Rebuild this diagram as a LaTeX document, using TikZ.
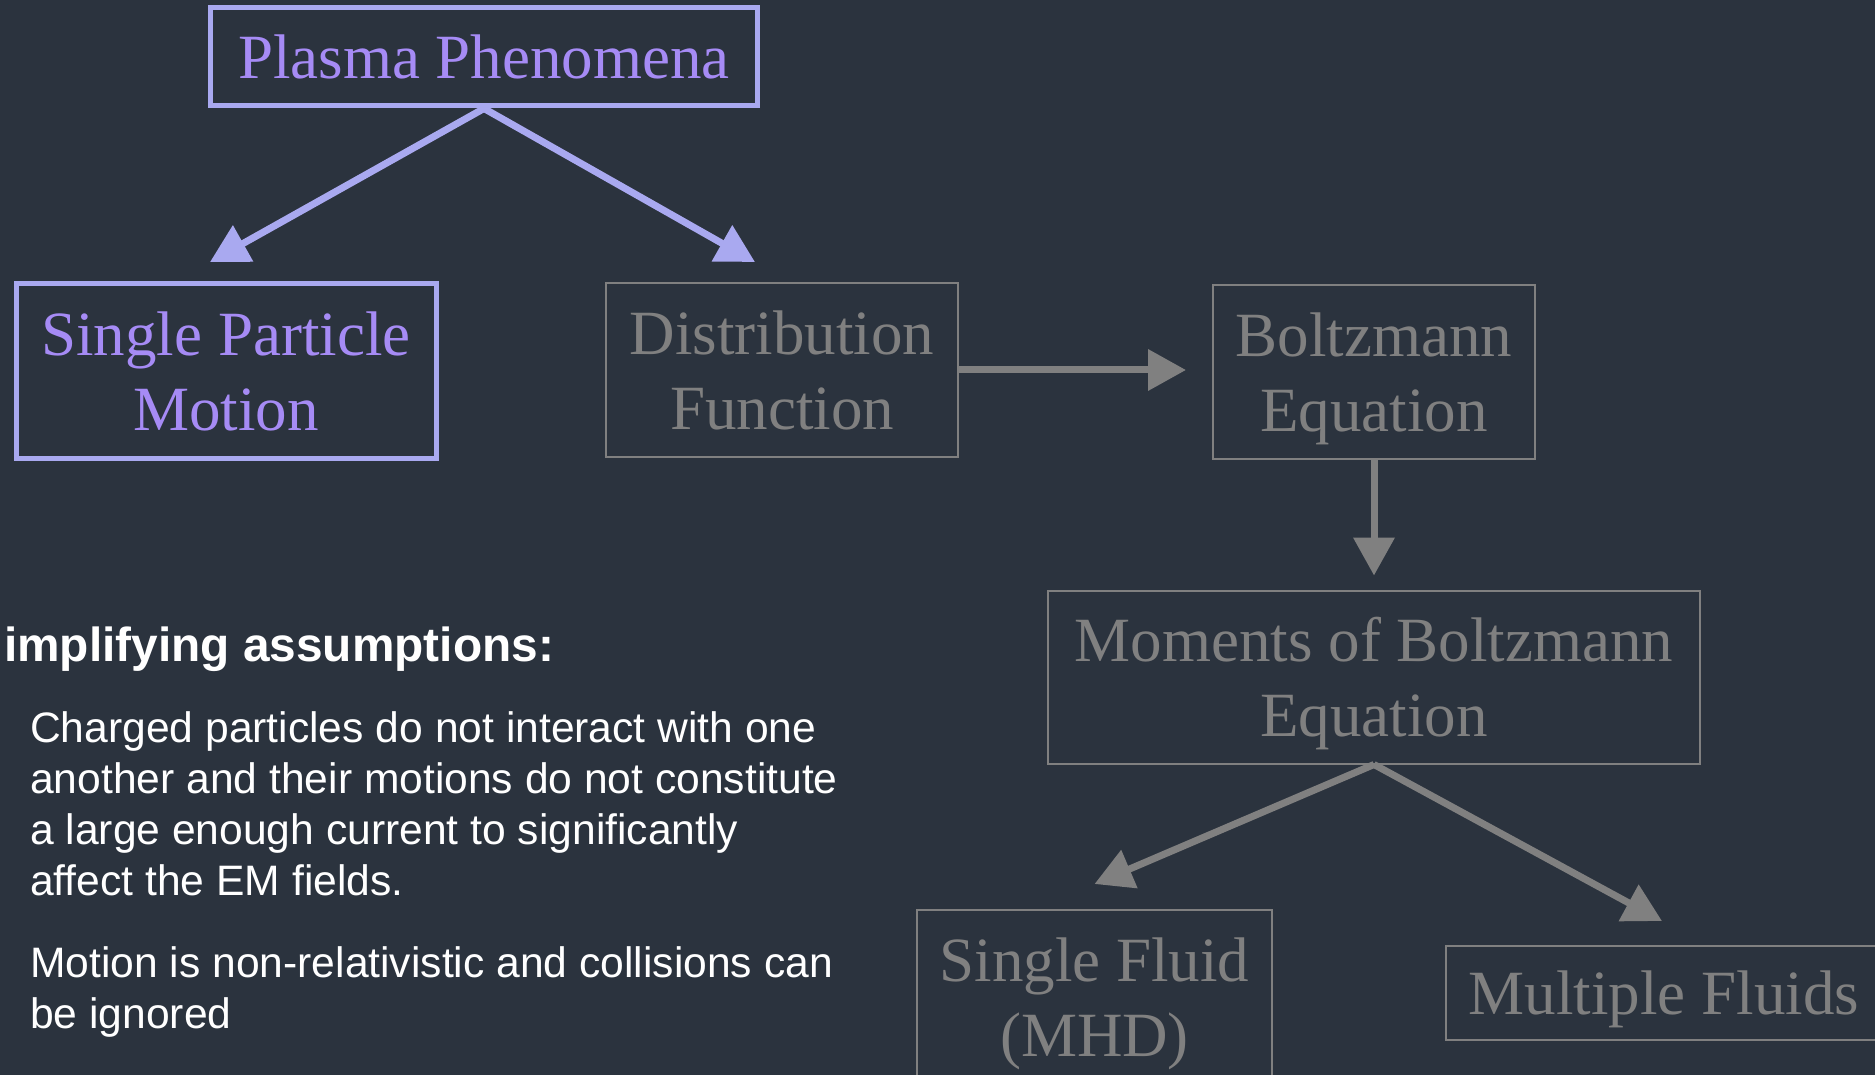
\documentclass[tikz,border=0pt]{standalone}
\usepackage{fontspec}
\setmainfont{Liberation Serif}
\setsansfont{Liberation Sans}
\usetikzlibrary{arrows.meta}
\definecolor{bgc}{HTML}{2B333E}
\definecolor{lav}{HTML}{A9A9F0}
\definecolor{purp}{HTML}{A68BF5}
\definecolor{gry}{HTML}{808080}
\tikzset{
  hibox/.style={draw=lav, line width=5pt, text=purp, align=center, inner sep=0pt,
    font=\fontsize{63}{75}\selectfont},
  lobox/.style={draw=gry, line width=2pt, text=gry, align=center, inner sep=0pt,
    text depth=0pt, font=\fontsize{63}{75}\selectfont},
  hiarrow/.style={draw=lav, line width=7pt, -{Triangle[length=38pt,width=40pt]}},
  loarrow/.style={draw=gry, line width=7pt, -{Triangle[length=38pt,width=40pt]}},
  headtxt/.style={anchor=base west, inner sep=0pt, text=white,
    font=\sffamily\bfseries\fontsize{47.8}{57}\selectfont},
  bodytxt/.style={anchor=base west, inner sep=0pt, text=white,
    font=\sffamily\fontsize{42.6}{51}\selectfont}
}
\begin{document}
\begin{tikzpicture}[x=1pt,y=-1pt]
\useasboundingbox (0,0) rectangle (1875,1075);
\clip (0,0) rectangle (1875,1075);
\fill[bgc] (0,0) rectangle (1875,1075);

\node[hibox, minimum width=547pt, minimum height=98pt] (pp) at (484,57) {Plasma Phenomena};
\node[hibox, minimum width=420pt, minimum height=175pt] (spm) at (226,371) {Single Particle\\Motion};
\node[lobox, minimum width=352pt, minimum height=174pt] (df) at (782,370) {Distribution\\Function};
\node[lobox, minimum width=322pt, minimum height=174pt] (bz) at (1374,372) {Boltzmann\\Equation};
\node[lobox, minimum width=652pt, minimum height=173pt] (mo) at (1374,677) {Moments of Boltzmann\\Equation};
\node[lobox, minimum width=355pt, minimum height=174pt] (sf) at (1094.5,997) {Single Fluid\\(MHD)};
\node[lobox, minimum width=436pt, minimum height=94pt] (mf) at (1664,993) {Multiple Fluids};

\draw[hiarrow] (pp.south) -- ([xshift=-16pt,yshift=19pt]spm.north);
\draw[hiarrow] (pp.south) -- ([xshift=-27pt,yshift=20pt]df.north);
\draw[loarrow, shorten >=26pt] (df.east) -- (df.east -| bz.west);
\draw[loarrow, shorten >=14pt] (bz.south) -- (mo.north);
\draw[loarrow] (mo.south) -- ([yshift=25pt]sf.north);
\draw[loarrow] (mo.south) -- ([xshift=-2pt,yshift=24pt]mf.north);

\node[headtxt] (hd) at (4,661) {implifying assumptions:};
\node[bodytxt] (b1) at (30,742) {Charged particles do not interact with one};
\node[bodytxt] (b2) at (30,793) {another and their motions do not constitute};
\node[bodytxt] (b3) at (30,844) {a large enough current to significantly};
\node[bodytxt] (b4) at (30,895) {affect the EM fields.};
\node[bodytxt] (b5) at (30,977) {Motion is non-relativistic and collisions can};
\node[bodytxt] (b6) at (30,1028) {be ignored};
\end{tikzpicture}
\end{document}
